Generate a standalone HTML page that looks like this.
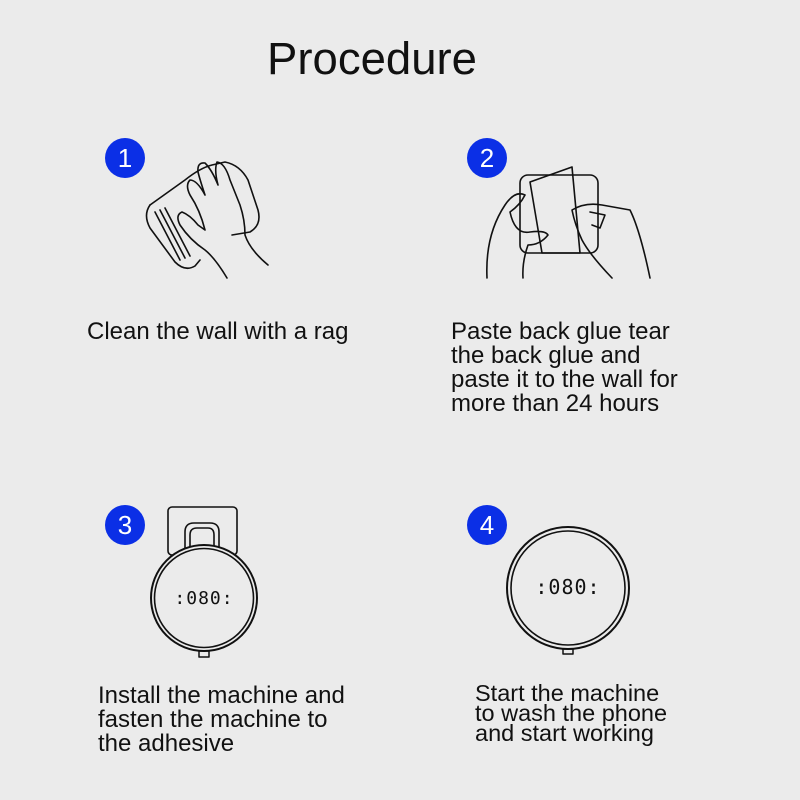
<!DOCTYPE html>
<html><head><style>
body{margin:0;background:#ebebeb;}
svg{display:block}
.t{font-family:"Liberation Sans",Arial,sans-serif;fill:#111}
.n{font-family:"Liberation Sans",Arial,sans-serif;fill:#fff}
</style></head><body>
<svg width="800" height="800" viewBox="0 0 800 800">
<rect width="800" height="800" fill="#ebebeb"/>
<text class="t" x="372" y="74" font-size="45.5" text-anchor="middle">Procedure</text>
<g fill="#0b2fe6">
<circle cx="125" cy="158" r="20"/><circle cx="487" cy="158" r="20"/>
<circle cx="125" cy="525" r="20"/><circle cx="487" cy="525" r="20"/>
</g>
<g font-size="26" text-anchor="middle">
<text class="n" x="125" y="167">1</text><text class="n" x="487" y="167">2</text>
<text class="n" x="125" y="534">3</text><text class="n" x="487" y="534">4</text>
</g>
<g fill="none" stroke="#111" stroke-width="1.6" stroke-linejoin="round" stroke-linecap="round">
<!-- step1 rag & hand -->
<path d="M150 205 L185 180 Q200 168 212 165 L225 162 Q240 165 248 180 L258 210 Q262 225 250 232 L232 235"/>
<path d="M150 205 Q143 215 150 228 L175 262 Q185 272 195 266 L200 260"/>
<path d="M155 212 L180 260 M160 210 L185 258 M165 208 L190 256"/>
<path d="M227 278 Q215 258 205 250 Q190 240 180 225 Q175 215 182 212 Q190 215 198 225 L205 230 Q200 210 190 195 Q185 185 190 180 Q197 180 205 195 Q200 180 198 172 Q197 162 205 163 Q212 170 218 185 Q214 170 217 162 Q225 163 230 180 L240 205 Q245 220 245 235 Q250 250 268 265"/>
<!-- step2 -->
<rect x="520" y="175" width="78" height="78" rx="8"/>
<path d="M530 182 L572 167 L580 253 L542 253 Z"/>
<path d="M487 278 Q485 235 505 205 Q515 190 525 195 Q520 205 510 212 Q515 235 530 232 Q545 230 548 235 Q540 245 528 245 Q522 262 523 278"/>
<path d="M650 278 Q640 230 630 210 L602 205 Q585 202 572 210 Q575 225 582 240 Q590 255 612 278"/>
<path d="M590 212 L605 215 L600 228 L592 225"/>
<!-- step3 -->
<rect x="168" y="507" width="69" height="48" rx="4"/>
<path d="M185 550 L185 532 Q185 523 194 523 L210 523 Q219 523 219 532 L219 550"/>
<path d="M190 548 L190 535 Q190 528 197 528 L208 528 Q214 528 214 535 L214 548"/>
<circle cx="204" cy="598" r="53" stroke-width="2" fill="#ebebeb"/>
<circle cx="204" cy="598" r="49.5" stroke-width="1.6"/>
<rect x="199" y="651" width="10" height="6" stroke-width="1.5"/>
<!-- step4 -->
<circle cx="568" cy="588" r="61" stroke-width="2"/>
<circle cx="568" cy="588" r="57" stroke-width="1.6"/>
<rect x="563" y="649" width="10" height="5" stroke-width="1.5"/>
</g>
<text class="t" x="204" y="604" font-size="18" text-anchor="middle" letter-spacing="1" style="font-family:'DejaVu Sans Mono',monospace">:080:</text>
<text class="t" x="568" y="594" font-size="20" text-anchor="middle" letter-spacing="1" style="font-family:'DejaVu Sans Mono',monospace">:080:</text>
<g font-size="24">
<text class="t" x="87" y="339">Clean the wall with a rag</text>
<text class="t" x="451" y="339">Paste back glue tear</text>
<text class="t" x="451" y="363">the back glue and</text>
<text class="t" x="451" y="387">paste it to the wall for</text>
<text class="t" x="451" y="411">more than 24 hours</text>
<text class="t" x="98" y="703">Install the machine and</text>
<text class="t" x="98" y="727">fasten the machine to</text>
<text class="t" x="98" y="751">the adhesive</text>
</g>
<g font-size="23.5">
<text class="t" x="475" y="701">Start the machine</text>
<text class="t" x="475" y="721">to wash the phone</text>
<text class="t" x="475" y="741">and start working</text>
</g>
</svg>
</body></html>
